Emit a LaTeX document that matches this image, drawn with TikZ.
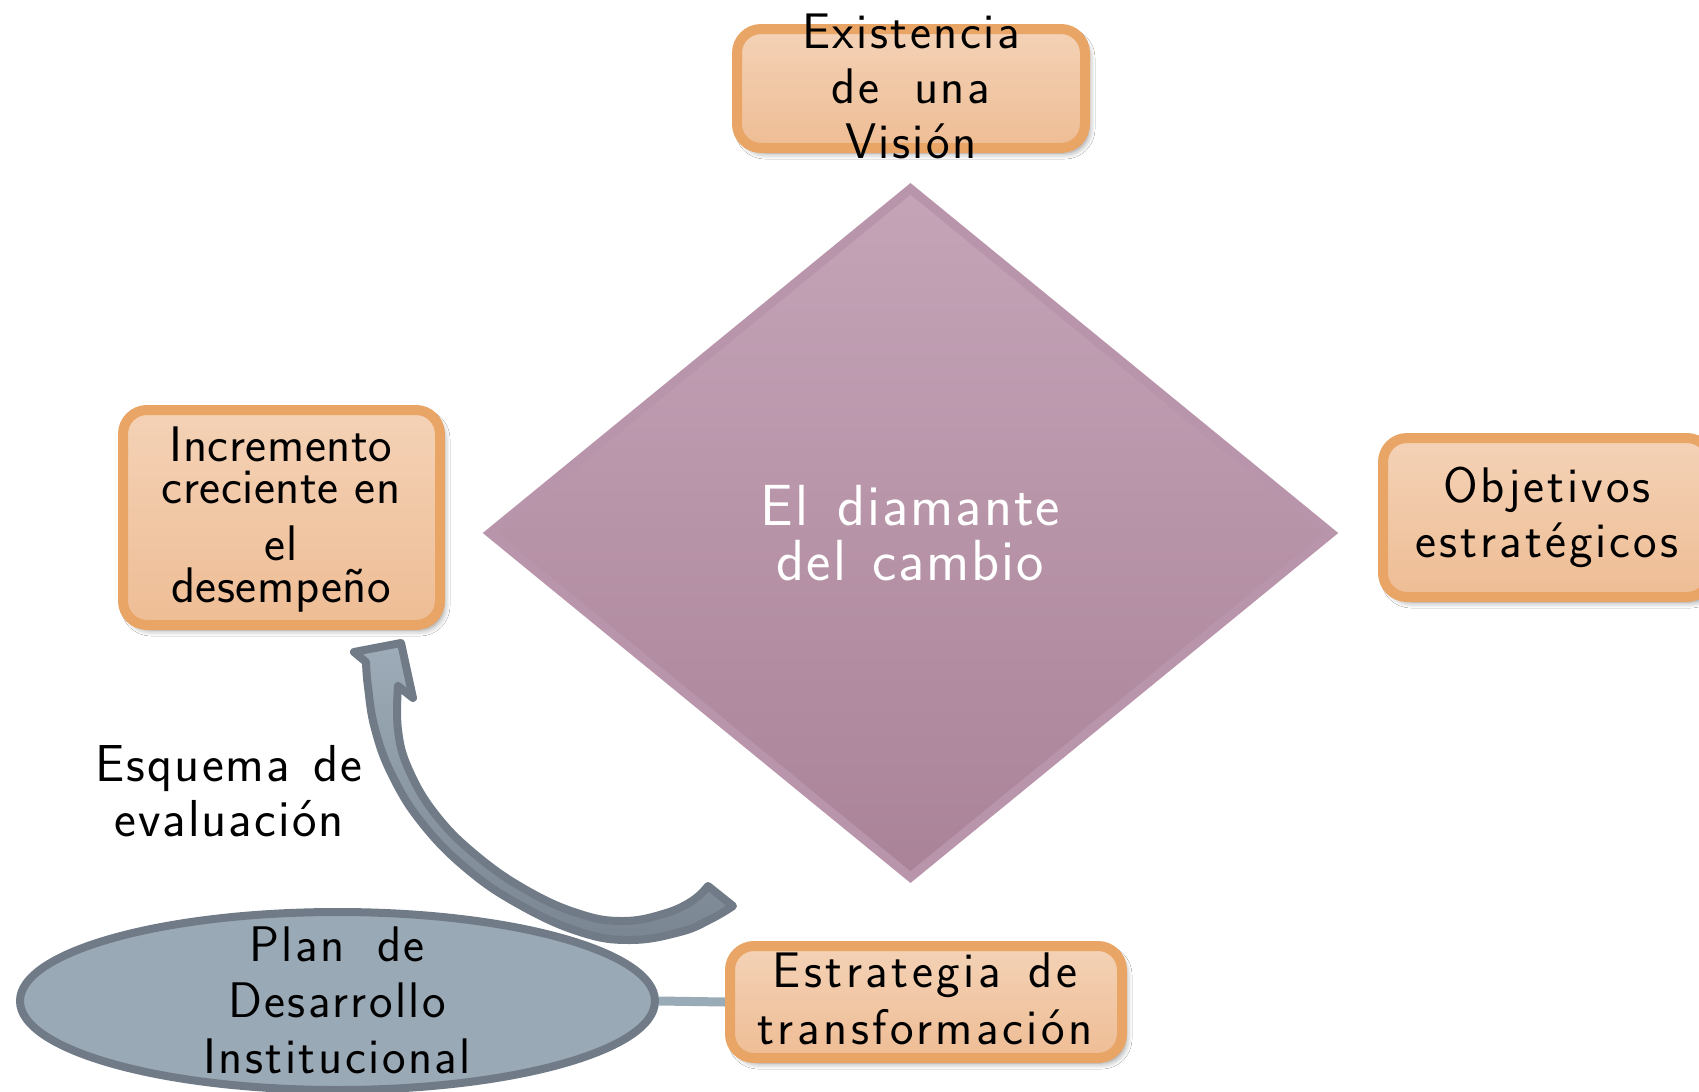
\documentclass[tikz,border=0pt]{standalone}
\usepackage{fontspec}
\setsansfont{Latin Modern Sans}
\usetikzlibrary{shapes.geometric,shadows.blur}
\definecolor{boxborder}{HTML}{E9A566}
\definecolor{boxtop}{HTML}{F4D2B6}
\definecolor{boxbot}{HTML}{EEBD95}
\definecolor{diamtop}{HTML}{C5A4B8}
\definecolor{diambot}{HTML}{AA8398}
\definecolor{diamborder}{HTML}{B995AB}
\definecolor{ellfill}{HTML}{9AA9B6}
\definecolor{ellborder}{HTML}{707B87}
\definecolor{connline}{HTML}{9AABB8}
\definecolor{arrtop}{HTML}{9DACB8}
\definecolor{arrbot}{HTML}{7A8691}
\newcommand{\txtfont}[3]{\sffamily\fontsize{#1}{#2}\selectfont\addfontfeatures{LetterSpace=#3}}
\begin{document}
\begin{tikzpicture}[x=0.5pt,y=-0.5pt,
  box/.style={draw=boxborder, line width=5pt, rounded corners=12pt,
    top color=boxtop, bottom color=boxbot, inner sep=0pt,
    blur shadow={shadow xshift=2pt, shadow yshift=-2.5pt, shadow blur steps=6,
      shadow opacity=45, shadow blur radius=3pt}},
  lbl/.style={align=center, inner sep=0pt, text=black},
  conn/.style={line width=4.5pt, draw=connline},
  bigarrow/.style={draw=ellborder, line width=4pt, line join=round,
    top color=arrtop, bottom color=arrbot}]
\useasboundingbox (0,0) rectangle (1699,1092);
\fill[white] (0,0) rectangle (1699,1092);

% diamond
\node[diamond, draw=diamborder, line width=4.5pt, top color=diamtop, bottom color=diambot,
  minimum width=422.5pt, minimum height=346pt, inner sep=0pt, align=center, text=white,
  font=\txtfont{29pt}{27.5pt}{3.5}] (D) at (910.5,533)
  {El\hspace{0.5em}diamante\\del\hspace{0.45em}cambio};

% boxes
\node[box, minimum width=174pt, minimum height=59.5pt] (V) at (911,88.5) {};
\node[lbl, font=\txtfont{25pt}{27.5pt}{5}] (Vt) at (911,86) {Existencia\\de\hspace{0.7em}una\\Visión};

\node[box, minimum width=158.5pt, minimum height=107.5pt] (I) at (281.5,517.5) {};
\node[lbl, font=\txtfont{25pt}{21pt}{1}] (It) at (281,520)
  {Incremento\\creciente en\\[7.5pt]el\\desempeño};

\node[box, minimum width=164pt, minimum height=79.5pt] (O) at (1547,517.5) {};
\node[lbl, font=\txtfont{25pt}{27.5pt}{6}] (Ot) at (1547,517.5) {Objetivos\\estratégicos};

% ellipse
\node[ellipse, draw=ellborder, line width=4pt, fill=ellfill, minimum width=317.5pt,
  minimum height=89pt, inner sep=0pt] (P) at (337.5,1001) {};
\node[lbl, font=\txtfont{25pt}{28pt}{5}] (Pt) at (337,1000.5)
  {Plan\hspace{0.65em}de\\Desarrollo\\Institucional};

\node[box, minimum width=196pt, minimum height=56pt] (E) at (926,1002) {};
\node[lbl, font=\txtfont{25pt}{28.5pt}{7}] (Et) at (925,999)
  {Estrategia\hspace{0.55em}de\\transformación};

\draw[conn] (P.east) -- (E.west);

% label
\node[lbl, font=\txtfont{26pt}{27.5pt}{4}] (S) at (229,791.5)
  {Esquema\hspace{0.45em}de\\evaluación};

% curved block arrow
\draw[bigarrow]
  (708,886) -- (733,906)
  -- plot[smooth, tension=0.7] coordinates {(733,906) (711,919) (680,932) (630,940) (580,932) (520,905) (467,869) (422,823) (392,775) (375,729) (368,687) (366,662)}
  -- (354,652) -- (401,643) -- (413,698) -- (398,686)
  -- plot[smooth, tension=0.7] coordinates {(398,686) (398,730) (409,770) (436,815) (477,856) (528,891) (580,914) (623,921) (663,914) (692,901) (708,886)}
  -- cycle;
\end{tikzpicture}
\end{document}
